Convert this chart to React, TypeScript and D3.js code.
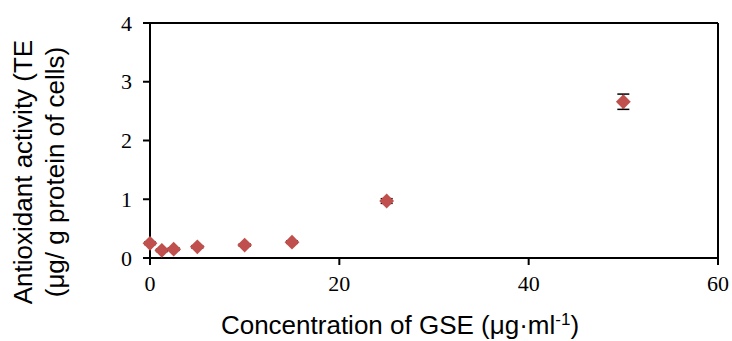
import React from "react";
import * as d3 from "d3";

const concentrations = [0, 1.25, 2.5, 5, 10, 15, 25, 50];
const activity = [0.25, 0.13, 0.15, 0.19, 0.22, 0.27, 0.97, 2.66];
const errors = [0.02, 0.02, 0.02, 0.02, 0.02, 0.02, 0.04, 0.13];
const xTicks = [0, 20, 40, 60];
const yTicks = [0, 1, 2, 3, 4];

const W = 732, H = 341;
const L = 150, R = 718, T = 23, B = 258;

export default function App() {
  const x = d3.scaleLinear().domain([0, 60]).range([L, R]);
  const y = d3.scaleLinear().domain([0, 4]).range([B, T]);
  const diamond = d3.symbol().type(d3.symbolSquare).size(110)();
  const color = "#C0504D";
  return (
    <svg width={W} height={H} style={{ position: "absolute", left: 0, top: 0, background: "#fff" }}>
      <rect x={0} y={0} width={W} height={H} fill="#fff" />
      <line x1={L} x2={R} y1={T} y2={T} stroke="#000" strokeWidth={2} />
      <line x1={R} x2={R} y1={T} y2={B} stroke="#000" strokeWidth={2} />
      <line x1={L} x2={R} y1={B} y2={B} stroke="#000" strokeWidth={2} />
      <line x1={L} x2={L} y1={T} y2={B} stroke="#000" strokeWidth={2} />
      {yTicks.map((t) => (
        <g key={"y" + t}>
          <line x1={L - 7} x2={L} y1={y(t)} y2={y(t)} stroke="#000" strokeWidth={2} />
          <text x={L - 18} y={y(t)} dy="0.35em" textAnchor="end" fontFamily="Liberation Serif" fontSize={22}>{t}</text>
        </g>
      ))}
      {xTicks.map((t) => (
        <g key={"x" + t}>
          <line x1={x(t)} x2={x(t)} y1={B} y2={B + 7} stroke="#000" strokeWidth={2} />
          <text x={x(t)} y={B + 33} textAnchor="middle" fontFamily="Liberation Serif" fontSize={22}>{t}</text>
        </g>
      ))}
      {concentrations.map((c, i) => (
        <g key={"p" + i}>
          <line x1={x(c)} x2={x(c)} y1={y(activity[i] - errors[i])} y2={y(activity[i] + errors[i])} stroke="#000" strokeWidth={1.5} />
          <line x1={x(c) - 6} x2={x(c) + 6} y1={y(activity[i] - errors[i])} y2={y(activity[i] - errors[i])} stroke="#000" strokeWidth={1.5} />
          <line x1={x(c) - 6} x2={x(c) + 6} y1={y(activity[i] + errors[i])} y2={y(activity[i] + errors[i])} stroke="#000" strokeWidth={1.5} />
          <path d={diamond!} transform={`translate(${x(c)},${y(activity[i])}) rotate(45)`} fill={color} />
        </g>
      ))}
      <text x={400} y={334} textAnchor="middle" fontFamily="Liberation Sans" fontSize={26}>
        Concentration of GSE (μg·ml<tspan dy={-9} fontSize={17}>-1</tspan><tspan dy={9}>)</tspan>
      </text>
      <g transform="translate(0,172) rotate(-90)">
        <text x={0} y={32} textAnchor="middle" fontFamily="Liberation Sans" fontSize={26}>Antioxidant activity (TE</text>
        <text x={0} y={64} textAnchor="middle" fontFamily="Liberation Sans" fontSize={26}>(μg/ g protein of cells)</text>
      </g>
    </svg>
  );
}
